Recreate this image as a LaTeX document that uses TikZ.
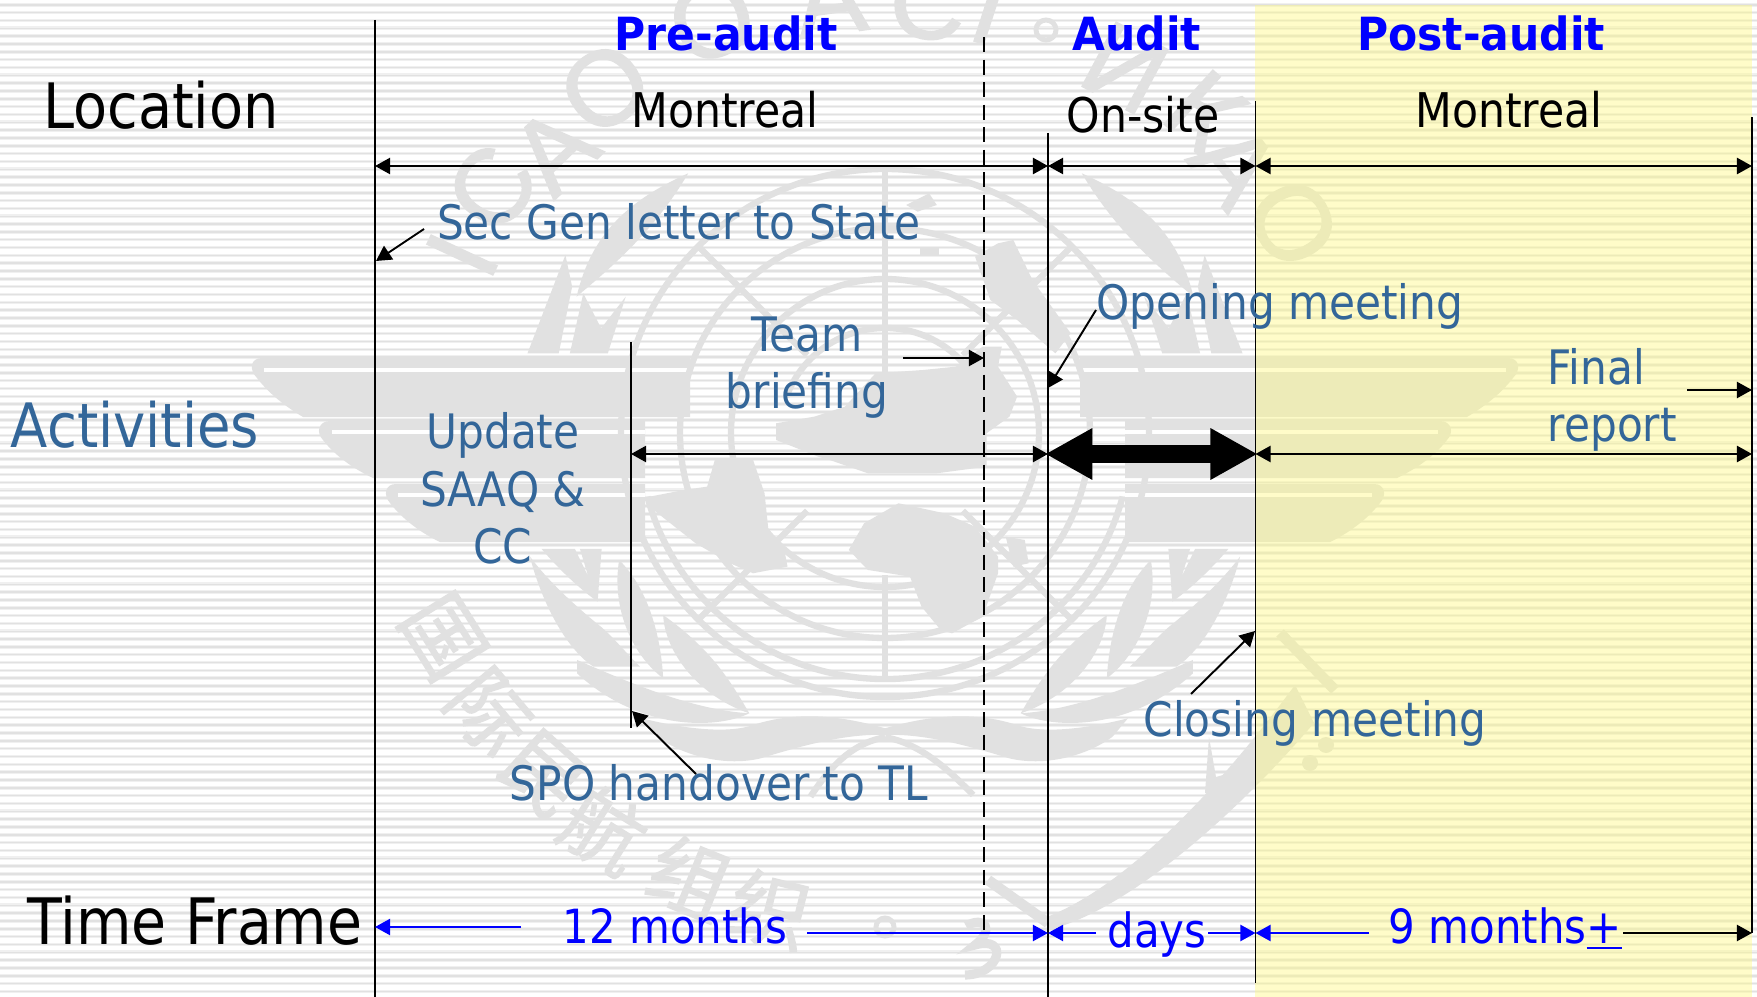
\documentclass[tikz,border=0pt]{standalone}
\usepackage{fontspec}
\setmainfont{DejaVu Sans}
\newfontfamily\tah[FakeStretch=0.89]{DejaVu Sans}
\newfontfamily\tahb[FakeStretch=0.93]{DejaVu Sans Bold}
\newfontfamily\wmfont[FakeBold=1.5]{Liberation Sans}
\newfontfamily\cjkf[FakeBold=1.5]{Noto Sans CJK SC}
\usetikzlibrary{arrows.meta}
\definecolor{wmgray}{HTML}{E1E1E1}
\definecolor{slate}{HTML}{336699}
\definecolor{pureblue}{HTML}{0000FF}
\definecolor{yellowpane}{HTML}{FFFA80}
\newcommand\fsz[1]{\fontsize{#1}{#1}\selectfont}
\newcommand\halfemblem{%
 % wing tiers
 \fill[wmgray] (690,358) -- (262,358) .. controls (250,358) and (249,370) .. (257,378) .. controls (270,395) and (288,408) .. (303,417) -- (690,417) -- cycle;
 \draw[white,line width=1.3pt] (264,370) -- (690,370);
 \fill[wmgray] (645,421) -- (330,421) .. controls (318,421) and (316,433) .. (323,440) .. controls (336,457) and (356,470) .. (373,478) -- (645,478) -- cycle;
 \draw[white,line width=1.3pt] (332,432) -- (645,432);
 \fill[wmgray] (645,484) -- (396,484) .. controls (385,484) and (383,495) .. (390,503) .. controls (403,520) and (423,534) .. (440,542) -- (645,542) -- cycle;
 \draw[white,line width=1pt] (398,495) -- (645,495);
 % leaves above the wings
 \begin{scope}[shift={(340,0)},xscale=.4464,yscale=.3333]
  \fill[wmgray] (505,765) -- (420,1060) -- (490,1060) -- (520,860) -- cycle;
  \fill[wmgray] (780,520) .. controls (630,610) and (560,720) .. (530,890) .. controls (620,790) and (710,680) .. (780,520) -- cycle;
  \fill[wmgray] (545,880) -- (515,1060) -- (600,1060) -- (640,890) -- (585,985) -- cycle;
 \end{scope}
 % leaves below the wings
 \begin{scope}[shift={(230,330)},xscale=.3333,yscale=.3333]
  \fill[wmgray] (935,657) -- (1035,657) -- (1075,740) -- (1050,657) -- (1115,657) -- (1103,815) .. controls (1040,770) and (980,710) .. (935,657) -- cycle;
  \fill[wmgray] (900,680) .. controls (960,760) and (1040,830) .. (1100,880) .. controls (1140,910) and (1180,960) .. (1230,1010) -- (1090,1010) .. controls (1000,950) and (930,800) .. (900,680) -- cycle;
 \end{scope}
 \begin{scope}[shift={(600,540)},xscale=.3827,yscale=.3333]
  \fill[wmgray] (50,60) .. controls (30,200) and (80,340) .. (165,415) .. controls (160,300) and (130,150) .. (50,60) -- cycle;
  \fill[wmgray] (165,225) .. controls (170,340) and (260,470) .. (390,520) .. controls (330,400) and (280,320) .. (165,225) -- cycle;
  \fill[wmgray] (-60,360) .. controls (100,440) and (250,510) .. (390,520) .. controls (300,570) and (100,570) .. (-60,400) -- cycle;
  % ribbon
  \fill[wmgray] (745,565) .. controls (640,530) and (520,510) .. (400,555) .. controls (340,580) and (230,570) .. (110,535) -- (150,590) .. controls (220,650) and (330,680) .. (420,655) .. controls (520,620) and (640,580) .. (745,585) -- cycle;
 \end{scope}
}
\begin{document}
\begin{tikzpicture}[x=0.01cm,y=-0.01cm,
  vline/.style={draw=black,line width=0.5pt},
  span/.style={draw=black,line width=0.6pt,{Triangle[length=4.3pt,width=4.6pt]}-{Triangle[length=4.3pt,width=4.6pt]}},
  bluelead/.style={draw=pureblue,line width=0.55pt,-{Triangle[length=4.3pt,width=4.6pt]}},
  blacklead/.style={draw=black,line width=0.55pt,-{Triangle[length=4.3pt,width=4.6pt]}},
  heavy/.style={draw=black,line width=4.84pt,{Triangle[length=13.4pt,width=13.7pt]}-{Triangle[length=13.4pt,width=13.7pt]},shorten <=-0.8pt,shorten >=-0.6pt},
  band/.style={draw=wmgray,line width=1.8pt},
  wmletter/.style={text=wmgray,inner sep=0,font=\wmfont\fsz{30}},
  wmhan/.style={text=wmgray,inner sep=0,font=\cjkf\fsz{23}},
  head/.style={text=pureblue,inner sep=0,anchor=base,yshift=-0.3pt,font=\tahb\fsz{13}},
  place/.style={text=black,inner sep=0,anchor=base,yshift=-0.1pt,font=\tah\fsz{13.6}},
  rowlab/.style={inner sep=0,anchor=base},
  note/.style={text=slate,inner sep=0,anchor=base,yshift=-0.3pt,font=\tah\fsz{13.5}},
  dur/.style={text=pureblue,inner sep=0,anchor=base,font=\tah\fsz{13.4}},
]
\useasboundingbox (0,0) rectangle (1757,997);
\fill[white] (0,0) rectangle (1757,997);
% striped background
\foreach \i in {0,...,126} {
  \fill[black!6] (0,{3+7.83*\i}) rectangle (1757,{6.6+7.83*\i});
  \fill[wmgray] (0,{4.1+7.83*\i}) rectangle (1757,{5.6+7.83*\i});
}
% watermark emblem
\halfemblem
\begin{scope}[shift={(1770,0)},xscale=-1]\halfemblem\end{scope}
\draw[band] (885,433) circle[radius=264];
\draw[band] ([shift={(885,433)}]15:246) arc[start angle=15,end angle=165,radius=246];
\draw[band] (885,433) circle[radius=205];
\draw[band] (885,433) circle[radius=154];
\draw[band] ([shift={(885,433)}]200:105) arc[start angle=200,end angle=340,radius=105];
\draw[band] (885,170) -- (885,385);
\draw[band] (885,575) -- (885,678);
\foreach \a in {45,135,225,315} \draw[band] ([shift={(885,433)}]\a:110) -- ([shift={(885,433)}]\a:264);
\begin{scope}[shift={(600,540)},xscale=.3827,yscale=.3333]
  \draw[wmgray,line width=1.8pt] (745,592) .. controls (650,610) and (590,700) .. (550,770);
  \draw[wmgray,line width=1.8pt] (745,592) .. controls (840,610) and (920,700) .. (975,765);
\end{scope}
% continents
\begin{scope}[shift={(600,140)},xscale=.3827,yscale=.3333]
  \fill[wmgray] (845,690) -- (930,680) -- (1000,620) -- (1050,620) -- (1040,680) -- (1090,770) -- (1070,830) -- (1010,880) -- (1010,980) -- (880,1000) -- (700,1000) -- (600,960) -- (570,950) -- (460,900) -- (460,850) -- (560,830) -- (640,800) -- (720,700) -- cycle;
  \fill[wmgray] (300,960) -- (400,960) -- (430,1060) -- (440,1170) -- (480,1220) -- (490,1280) -- (400,1300) -- (340,1270) -- (250,1210) -- (140,1110) -- (130,1070) -- (220,1050) -- (280,1040) -- cycle;
  \fill[wmgray] (690,1150) -- (780,1090) -- (900,1120) -- (980,1160) -- (1040,1250) -- (1040,1300) -- (1000,1430) -- (920,1480) -- (890,1470) -- (840,1400) -- (810,1310) -- (700,1290) -- (650,1230) -- cycle;
  \fill[wmgray] (1040,310) -- (1080,300) -- (1130,420) -- (1230,580) -- (1190,640) -- (1090,540) -- (1020,480) -- (980,350) -- cycle;
  \fill[wmgray] (1060,1190) -- (1110,1200) -- (1120,1270) -- (1080,1280) -- cycle;
  \fill[wmgray] (800,195) -- (860,160) -- (880,195) -- (830,215) -- cycle;
  \fill[wmgray] (835,325) -- (885,325) -- (885,345) -- (835,345) -- cycle;
\end{scope}
% watermark lettering
\node[wmletter,rotate=65] (wmI) at (462,255) {I};
\node[wmletter,rotate=56] (wmC) at (492,188) {C};
\node[wmletter,rotate=44] (wmA) at (554,150) {A};
\node[wmletter,rotate=36] (wmO) at (605,88) {O};
\node[wmletter,rotate=22] (wmOb) at (712,20) {O};
\node[wmletter,rotate=8] (wmAb) at (830,-2) {A};
\node[wmletter,rotate=-6] (wmCb) at (928,2) {C};
\node[wmletter,rotate=-18] (wmIb) at (990,8) {I};
\node[wmletter,rotate=-28] (wmIk) at (1125,68) {И};
\node[wmletter,rotate=-42] (wmK) at (1205,112) {К};
\node[wmletter,rotate=-52] (wmAk) at (1235,165) {А};
\node[wmletter,rotate=-60] (wmOk) at (1293,223) {О};
\draw[wmgray,line width=1.4pt] (1046,30) circle[radius=10];
\draw[wmgray,line width=1.4pt] (885,927) circle[radius=9];
\node[wmhan,rotate=-58] (wmG) at (443,637) {国};
\node[wmhan,rotate=-50] (wmJ) at (489,713) {际};
\node[wmhan,rotate=-42] (wmM) at (543,775) {民};
\node[wmhan,rotate=-32] (wmH) at (604,830) {航};
\node[wmhan,rotate=-22] (wmZ) at (690,877) {组};
\node[wmhan,rotate=-14] (wmX) at (770,910) {织};
% arabic-style strokes lower right
\draw[wmgray,line width=3pt] (988,880) -- (1048,923);
\fill[wmgray] (1044,918) .. controls (1120,890) and (1210,800) .. (1295,685) -- (1314,723) .. controls (1240,810) and (1130,910) .. (1048,930) -- cycle;
\draw[wmgray,line width=3pt] (1280,633) -- (1335,690);
\fill[wmgray] (1326,745) circle[radius=8];
\fill[wmgray] (1310,763) circle[radius=8];
\fill[wmgray] (1209,737) -- (1205,793) -- (1219,797) -- (1240,770) -- (1216,777) -- cycle;
\draw[wmgray,line width=2.6pt] (966,926) .. controls (985,915) and (995,930) .. (975,945) .. controls (1010,935) and (1000,975) .. (965,975);
% yellow pane
\fill[yellowpane,fill opacity=.42] (1255,5) rectangle (1752,997);
% lines
\coordinate (atop) at (375,20); \coordinate (abot) at (375,997);
\coordinate (btop) at (631,342); \coordinate (bbot) at (631,728);
\coordinate (ctop) at (984,37); \coordinate (cbot) at (984,933);
\coordinate (dtop) at (1048,133); \coordinate (dbot) at (1048,997);
\coordinate (etop) at (1255.5,101); \coordinate (ebot) at (1255.5,983);
\coordinate (ftop) at (1752,117); \coordinate (fbot) at (1752,933);
\draw[vline] (atop) -- (abot);
\draw[vline] (btop) -- (bbot);
\draw[vline,dash pattern=on 4.3pt off 2.1pt] (ctop) -- (cbot);
\draw[vline] (dtop) -- (dbot);
\draw[vline] (etop) -- (ebot);
\draw[vline] (ftop) -- (fbot);
% span rows
\coordinate (rowa) at (0,166); \coordinate (rowb) at (0,454); \coordinate (rowc) at (0,933);
\draw[span] (atop |- rowa) -- (dtop |- rowa);
\draw[span] (dtop |- rowa) -- (etop |- rowa);
\draw[span] (etop |- rowa) -- (ftop |- rowa);
\draw[span] (btop |- rowb) -- (dtop |- rowb);
\draw[heavy] (dtop |- rowb) -- (etop |- rowb);
\draw[span] (etop |- rowb) -- (ftop |- rowb);
% text
\node[head] (hpre) at (726,49) {Pre-audit};
\node[head] (haud) at (1137,49) {Audit};
\node[head] (hpost) at (1481,49) {Post-audit};
\node[place] (pm) at (725,127) {Montreal};
\node[place] (po) at (1143,132) {On-site};
\node[place] (pr) at (1509,127) {Montreal};
\node[rowlab,text=black,font=\tah\fsz{17.8}] (lloc) at (161,129) {Location};
\node[rowlab,text=slate,font=\tah\fsz{17.4}] (lact) at (135,447) {Activities};
\node[rowlab,text=black,font=\tah\fsz{18.2}] (ltim) at (195,944) {Time Frame};
\node[note] (nsec) at (679,238) {Sec Gen letter to State};
\node[note] (nopen) at (1280,318) {Opening meeting};
\node[note] (nteam) at (807,350) {Team};
\node[note] (nbrief) at (807,407) {briefing};
\node[note] (nupd) at (503,447) {Update};
\node[note] (nsaaq) at (503,505) {SAAQ \&};
\node[note] (ncc) at (503,562) {CC};
\node[note,anchor=base west] (nfin) at (1547,383) {Final};
\node[note,anchor=base west] (nrep) at (1547,440) {report};
\node[note] (nspo) at (719,799) {SPO handover to TL};
\node[note] (nclo) at (1315,735) {Closing meeting};
\node[dur] (d12) at (675,943) {12 months};
\node[dur] (ddays) at (1157,947) {days};
\node[dur,anchor=base west] (d9) at (1388,943) {9 months\underline{+}};
% callouts
\coordinate (csec) at (424,229); \coordinate (tsec) at (376,261);
\coordinate (cteam) at (903,358); \coordinate (topen) at (1048,388);
\coordinate (copen) at (1096,310); \coordinate (cspo) at (696,774);
\coordinate (tspo) at (632,711); \coordinate (cclo) at (1191,694);
\coordinate (tclo) at (1255,631); \coordinate (cfin) at (1687,390);
\draw[blacklead] (csec) -- (tsec);
\draw[blacklead] (cteam) -- (ctop |- cteam);
\draw[blacklead] (copen) -- (topen);
\draw[blacklead] (cspo) -- (tspo);
\draw[blacklead] (cclo) -- (tclo);
\draw[blacklead] (cfin) -- (ftop |- cfin);
% time-frame leads
\coordinate (l12a) at (521,927); \coordinate (l12b) at (807,933);
\coordinate (lda) at (1096,933); \coordinate (ldb) at (1208,933);
\coordinate (l9a) at (1369,933); \coordinate (l9b) at (1623,933);
\draw[bluelead] (l12a) -- (atop |- l12a);
\draw[bluelead] (l12b) -- (dtop |- l12b);
\draw[bluelead] (lda) -- (dtop |- lda);
\draw[bluelead] (ldb) -- (etop |- ldb);
\draw[bluelead] (l9a) -- (etop |- l9a);
\draw[blacklead] (l9b) -- (ftop |- l9b);
\end{tikzpicture}
\end{document}
